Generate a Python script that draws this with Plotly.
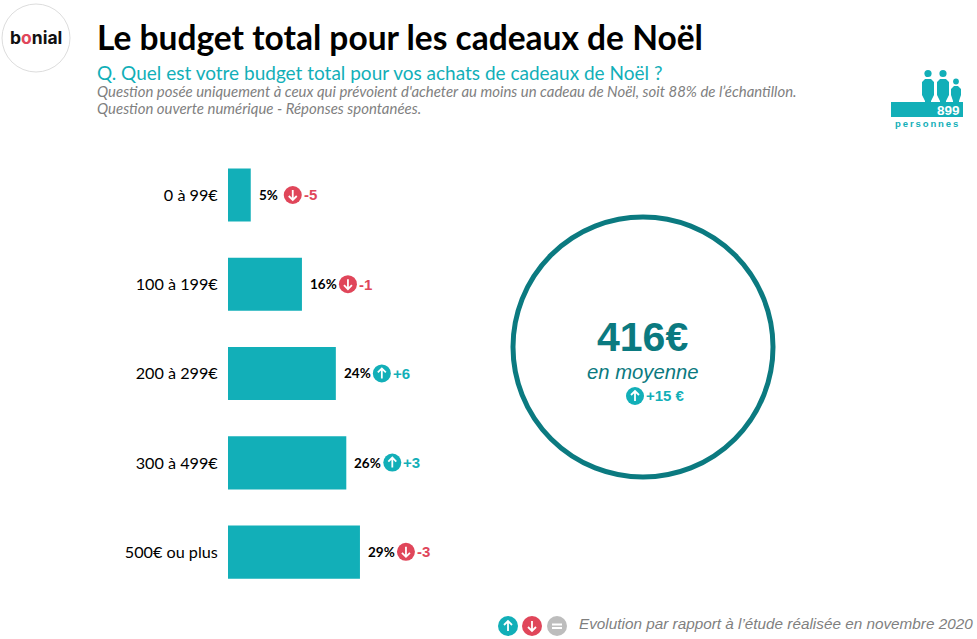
import plotly.graph_objects as go

W, H = 977, 639

categories = ['0 à 99€', '100 à 199€', '200 à 299€', '300 à 499€', '500€ ou plus']
shares = [5, 16, 24, 26, 29]
# longueurs lues sur les barres (non arrondies)
bar_lengths = [5.0, 16.25, 23.7, 26.0, 29.0]
deltas = [-5, -1, 6, 3, -3]
average = '416€'
average_delta = '+15 €'

TEAL = '#12afb8'
DARK = '#0b7a80'
RED = '#e0465a'
GREY = '#7f7f7f'
SANS = 'Lato, Carlito, sans-serif'
ARIAL = 'Liberation Sans, Arial, sans-serif'


def px(x):
    return x / W


def py(y):
    return 1 - y / H


def text(x, y, s, size, color, family=SANS, anchor='left', **kw):
    return dict(xref='paper', yref='paper', x=px(x), y=py(y), text=s, showarrow=False,
                xanchor=anchor, yanchor='middle', font=dict(size=size, color=color, family=family),
                borderpad=0, borderwidth=0, **kw)


def circle(cx, cy, r, fill, line=None, width=0):
    return dict(type='circle', xref='paper', yref='paper', x0=px(cx - r), x1=px(cx + r),
                y0=py(cy + r), y1=py(cy - r), fillcolor=fill, layer='above',
                line=dict(color=line or fill, width=width))


def rect(x0, y0, x1, y1, fill):
    return dict(type='rect', xref='paper', yref='paper', x0=px(x0), x1=px(x1), y0=py(y1), y1=py(y0),
                fillcolor=fill, line=dict(width=0), layer='above')


def glyph(cx, cy, kind):
    # petite fleche blanche dans la pastille, kind = up / down / eq
    if kind == 'eq':
        segs = [[(cx - 5, cy - 1.5), (cx + 5, cy - 1.5)], [(cx - 5, cy + 2), (cx + 5, cy + 2)]]
    else:
        s = -1 if kind == 'up' else 1
        segs = [[(cx, cy - 5 * s), (cx, cy + 5 * s)],
                [(cx - 4, cy + 1 * s), (cx, cy + 5 * s), (cx + 4, cy + 1 * s)]]
    path = ''
    for seg in segs:
        path += 'M ' + ' L '.join(f'{px(a):.5f},{py(b):.5f}' for a, b in seg) + ' '
    return dict(type='path', xref='paper', yref='paper', path=path, layer='above',
                line=dict(color='white', width=1.8))


def badge(cx, cy, kind, r=9):
    color = {'up': TEAL, 'down': RED, 'eq': '#bdbdbd'}[kind]
    return [circle(cx, cy, r, color), glyph(cx, cy, kind)]


def person(x0, x1, y0, y1, fill):
    # corps arrondi d'un personnage de l'icone
    mid = (x0 + x1) / 2
    pts = [(x0 + 3, y0), (x1 - 3, y0), (x1, y0 + 3), (x1, y1 - 9), (mid + 3, y1 - 3), (mid + 3, y1),
           (mid - 3, y1), (mid - 3, y1 - 3), (x0, y1 - 9), (x0, y0 + 3)]
    path = 'M ' + ' L '.join(f'{px(a):.5f},{py(b):.5f}' for a, b in pts) + ' Z'
    return dict(type='path', xref='paper', yref='paper', path=path, fillcolor=fill,
                line=dict(width=0), layer='above')


fig = go.Figure(go.Bar(
    x=bar_lengths, y=categories, orientation='h', marker=dict(color=TEAL, line=dict(width=0)),
    hoverinfo='skip', width=0.595
))

annotations = []
shapes = []

# etiquettes de droite: part, pastille, evolution
x_per_pct = 4.55
for i, (v, length, d) in enumerate(zip(shares, bar_lengths, deltas)):
    yc = 195 + 89.2 * i
    label_x = 228 + length * x_per_pct + 8
    cx = label_x + (34 if v < 10 else 38)
    annotations.append(text(label_x, yc, f'<b>{v}%</b>', 13.5, 'black'))
    shapes += badge(cx, yc, 'up' if d > 0 else 'down')
    col = TEAL if d > 0 else RED
    annotations.append(text(cx + 11, yc, f'<b>{d:+d}</b>', 15, col, family=ARIAL))

# grand cercle de la moyenne
shapes.append(dict(type='circle', xref='paper', yref='paper', x0=px(513), x1=px(773), y0=py(477), y1=py(217),
                   fillcolor='rgba(0,0,0,0)', line=dict(color=DARK, width=5), layer='above'))
annotations.append(text(642, 337, f'<b>{average}</b>', 41, DARK, family=ARIAL, anchor='center'))
annotations.append(text(643, 372, '<i>en moyenne</i>', 20.3, DARK, family=ARIAL, anchor='center'))
shapes += badge(635, 396, 'up')
annotations.append(text(646, 396, f'<b>{average_delta}</b>', 15, TEAL, family=ARIAL))

# logo
shapes.append(circle(36, 38, 34, 'white', '#dddddd', 1))
annotations.append(text(36, 38, '<b>b<span style="color:#e0465a">o</span>nial</b>', 17.5, '#111111',
                        family='Inter, sans-serif', anchor='center'))

# textes d'en-tete
annotations.append(text(97, 73, 'Q. Quel est votre budget total pour vos achats de cadeaux de Noël ?', 19, TEAL))
annotations.append(text(97, 91, "<i>Question posée uniquement à ceux qui prévoient d'acheter au moins un cadeau de Noël, soit 88% de l’échantillon.</i>",
                        14.95, GREY))
annotations.append(text(97, 108, '<i>Question ouverte numérique - Réponses spontanées.</i>', 14.95, GREY))

# icone 899 personnes
shapes.append(rect(891, 102, 963, 117, TEAL))
for x0, x1, y0, head, r in [(922, 934, 79, 928, 3.6), (937, 949, 79, 943, 3.6), (951, 961, 86, 956, 2.9)]:
    shapes.append(person(x0, x1, y0, 104, TEAL))
    shapes.append(circle(head, y0 - (5.5 if r > 3 else 4.5), r, TEAL))
annotations.append(text(960, 110, '<b>899</b>', 13.5, 'white', family=ARIAL, anchor='right'))
annotations.append(text(926, 123, '<b>' + '\u2009'.join('personnes') + '</b>', 9.5, TEAL, family=ARIAL, anchor='center'))

# legende du bas
shapes += badge(508, 626, 'up', 10)
shapes += badge(532, 626, 'down', 10)
shapes += badge(557, 626, 'eq', 10)
annotations.append(text(973, 623, '<i>Evolution par rapport à l’étude réalisée en novembre 2020</i>', 15.3, GREY,
                        family=ARIAL, anchor='right'))

fig.update_layout(
    width=W, height=H, autosize=False,
    margin=dict(l=0, r=0, t=0, b=0),
    paper_bgcolor='white', plot_bgcolor='white',
    showlegend=False,
    title=dict(text='<b>Le budget total pour les cadeaux de Noël</b>', x=px(97), xanchor='left', xref='paper',
               y=py(38), yanchor='middle', yref='paper', font=dict(size=33.5, color='black', family=SANS)),
    annotations=annotations,
    shapes=shapes,
    xaxis=dict(domain=[px(228), px(228 + 40 * x_per_pct)], range=[0, 40], visible=False),
    yaxis=dict(domain=[py(596.8), py(150.3)], autorange='reversed', showgrid=False, zeroline=False, showline=False,
               ticks='outside', ticklen=6, tickcolor='rgba(0,0,0,0)',
               tickfont=dict(size=16.2, color='black', family=SANS)),
)

fig.write_html('out.html', config=dict(displayModeBar=False),
               post_script="document.body.style.margin='0';document.documentElement.style.overflow='hidden';")
